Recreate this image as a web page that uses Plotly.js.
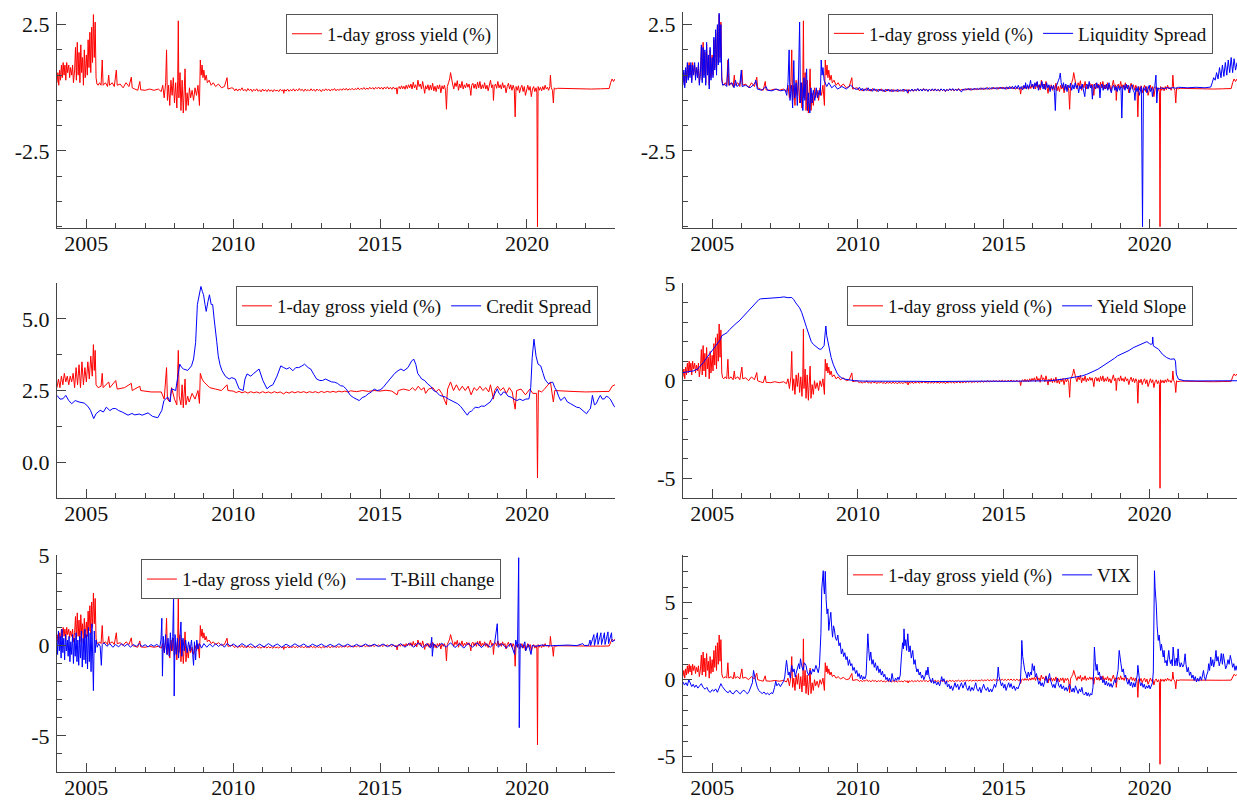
<!DOCTYPE html>
<html><head><meta charset="utf-8">
<script src="https://cdn.plot.ly/plotly-3.0.1.min.js"></script>
<style>html,body{margin:0;padding:0;background:#fff}#chart{width:1237px;height:802px}</style>
</head><body><div id="chart"></div>
<script>
// ---- tick labels ----
const yearTicks = [2005, 2010, 2015, 2020];
const yearLabels = ['2005', '2010', '2015', '2020'];

// ---- 1-day gross yield (%) : [year, value] ----
const yieldPts = [
[2004.00,0.2],[2004.03,0.6],[2004.06,0.1],[2004.09,0.7],[2004.12,0.3],[2004.15,0.9],[2004.18,0.4],[2004.21,1.0],[2004.24,0.5],[2004.27,0.9],[2004.30,0.3],[2004.33,1.0],[2004.36,0.6],[2004.40,0.9],[2004.43,0.4],[2004.46,0.8],[2004.50,0.5],[2004.53,0.9],[2004.56,0.2],[2004.60,0.7],
[2004.63,1.6],[2004.66,0.3],[2004.69,1.8],[2004.72,0.5],[2004.75,1.4],[2004.78,0.2],[2004.81,1.7],[2004.84,0.6],[2004.87,1.2],[2004.90,0.1],[2004.93,1.5],[2004.96,0.4],[2005.00,1.3],[2005.03,0.5],[2005.06,1.9],[2005.09,0.8],[2005.12,2.2],[2005.15,0.6],[2005.18,2.4],[2005.21,1.0],[2005.24,2.9],[2005.27,1.2],[2005.30,2.6],[2005.33,0.4],[2005.36,0.15],
[2005.40,0.1],[2005.45,0.2],[2005.50,0.1],[2005.54,1.1],[2005.57,0.1],[2005.65,0.2],[2005.72,0.05],[2005.76,0.5],[2005.79,0.1],[2005.88,0.2],[2005.95,0.05],[2006.02,0.7],[2006.05,0.1],[2006.15,0.15],[2006.25,0.0],[2006.35,0.2],[2006.45,0.05],[2006.53,0.42],[2006.56,0.0],[2006.65,-0.05],[2006.75,-0.1],[2006.82,0.25],[2006.85,-0.08],[2007.00,-0.1],[2007.15,-0.05],[2007.30,-0.1],[2007.45,-0.05],[2007.55,-0.15],
[2007.60,0.1],[2007.65,-0.4],[2007.70,0.2],[2007.73,1.5],[2007.76,-0.5],[2007.80,0.1],[2007.84,-0.7],[2007.88,0.3],[2007.92,-0.3],[2007.96,0.4],[2008.00,-0.6],[2008.04,0.2],[2008.08,-0.8],[2008.11,0.3],[2008.13,2.65],[2008.15,-0.4],[2008.19,0.6],[2008.22,-0.9],[2008.26,0.3],[2008.30,-1.0],[2008.33,0.0],[2008.36,0.75],[2008.39,-0.9],[2008.43,-0.2],[2008.47,-0.7],[2008.51,0.0],[2008.55,-0.4],[2008.60,-0.1],[2008.65,-0.5],[2008.70,0.0],[2008.75,-0.3],[2008.80,0.1],[2008.85,-0.7],[2008.88,1.1],[2008.91,0.5],[2008.94,0.9],[2008.97,0.4],[2009.00,0.7],[2009.04,0.3],[2009.08,0.5],[2009.12,0.2],[2009.18,0.3],[2009.25,0.1],[2009.32,0.2],[2009.40,0.05],[2009.50,0.15],[2009.60,0.0],[2009.70,0.05],[2009.79,0.4],[2009.82,-0.05],[2009.95,0.0],
[2010.00,-0.02],[2010.05,-0.12],[2010.10,-0.04],[2010.15,-0.13],[2010.20,-0.05],[2010.25,-0.10],[2010.30,0.00],[2010.35,-0.12],[2010.40,-0.06],[2010.45,-0.14],[2010.50,-0.03],[2010.55,-0.11],[2010.60,-0.05],[2010.65,-0.15],[2010.70,-0.06],[2010.75,-0.12],[2010.80,-0.04],[2010.85,-0.14],[2010.90,-0.08],[2010.95,-0.16],
[2011.00,-0.05],[2011.05,-0.13],[2011.10,-0.07],[2011.15,-0.15],[2011.20,-0.06],[2011.25,-0.14],[2011.30,-0.08],[2011.35,-0.16],[2011.40,-0.07],[2011.45,-0.13],[2011.50,-0.09],[2011.55,-0.15],[2011.60,-0.06],[2011.65,-0.12],[2011.70,-0.08],[2011.72,-0.22],[2011.75,-0.07],[2011.80,-0.13],[2011.85,-0.05],[2011.90,-0.14],[2011.95,-0.07],
[2012.00,-0.12],[2012.05,-0.04],[2012.10,-0.13],[2012.15,-0.06],[2012.20,-0.12],[2012.25,-0.03],[2012.30,-0.11],[2012.35,-0.06],[2012.40,-0.14],[2012.45,-0.05],[2012.50,-0.12],[2012.55,-0.07],[2012.60,-0.13],[2012.65,-0.04],[2012.70,-0.12],[2012.75,-0.06],[2012.80,-0.14],[2012.85,-0.05],[2012.90,-0.11],[2012.95,-0.07],
[2013.00,-0.15],[2013.05,-0.06],[2013.10,-0.12],[2013.15,-0.04],[2013.20,-0.11],[2013.25,-0.05],[2013.30,-0.13],[2013.35,-0.06],[2013.40,-0.10],[2013.45,-0.03],[2013.50,-0.12],[2013.55,-0.05],[2013.60,-0.11],[2013.65,-0.04],[2013.70,-0.10],[2013.75,-0.03],[2013.80,-0.09],[2013.85,-0.02],[2013.90,-0.10],[2013.95,-0.04],
[2014.00,-0.08],[2014.05,-0.02],[2014.10,-0.09],[2014.15,-0.03],[2014.20,-0.07],[2014.25,0.00],[2014.30,-0.08],[2014.35,-0.02],[2014.40,-0.06],[2014.45,0.01],[2014.50,-0.07],[2014.55,-0.01],[2014.60,-0.06],[2014.65,0.02],[2014.70,-0.05],[2014.75,0.01],[2014.80,-0.06],[2014.85,0.02],[2014.90,-0.04],[2014.95,0.03],
[2015.00,-0.05],[2015.05,0.02],[2015.10,-0.06],[2015.15,0.03],[2015.20,-0.04],[2015.25,0.04],[2015.30,-0.05],[2015.35,0.02],[2015.40,-0.06],[2015.45,0.03],[2015.50,-0.05],[2015.55,0.0],[2015.58,-0.25],[2015.61,0.0],
[2015.65,0.05],[2015.69,-0.05],[2015.73,0.08],[2015.77,-0.04],[2015.81,0.06],[2015.85,-0.06],[2015.89,0.10],[2015.93,-0.03],[2015.97,0.12],[2016.01,0.0],[2016.05,0.15],[2016.09,-0.05],[2016.13,0.22],[2016.17,0.0],[2016.21,0.12],[2016.25,-0.08],[2016.29,0.30],[2016.33,0.05],[2016.37,0.15],[2016.41,-0.05],[2016.45,0.25],[2016.49,0.0],[2016.52,-0.22],[2016.55,0.08],[2016.59,-0.05],[2016.63,0.12],[2016.67,-0.1],[2016.71,0.10],[2016.75,-0.08],[2016.79,0.18],[2016.83,-0.12],[2016.87,0.06],[2016.91,-0.15],[2016.95,0.10],[2016.99,-0.05],
[2017.03,0.12],[2017.07,-0.2],[2017.11,0.08],[2017.15,-0.05],[2017.19,0.10],[2017.23,-0.1],[2017.26,-0.85],[2017.29,0.05],[2017.33,0.20],[2017.37,0.35],[2017.40,0.60],[2017.43,0.30],[2017.47,0.15],[2017.51,-0.05],[2017.55,0.20],[2017.59,0.05],[2017.63,0.28],[2017.67,-0.1],[2017.71,0.15],[2017.75,0.0],[2017.79,0.25],[2017.83,-0.05],[2017.87,0.12],[2017.91,0.0],[2017.95,0.18],[2017.99,0.02],
[2018.03,0.15],[2018.07,-0.1],[2018.09,-0.3],[2018.12,0.1],[2018.16,0.18],[2018.20,-0.02],[2018.24,0.15],[2018.28,-0.05],[2018.32,0.22],[2018.36,0.0],[2018.40,0.25],[2018.44,-0.05],[2018.48,0.12],[2018.52,-0.02],[2018.56,0.2],[2018.60,-0.05],[2018.64,0.1],[2018.68,-0.12],[2018.72,0.15],[2018.76,0.3],[2018.80,0.0],[2018.84,0.12],[2018.86,-0.5],[2018.89,0.05],[2018.93,0.15],[2018.97,-0.02],
[2019.01,0.25],[2019.05,0.0],[2019.09,0.12],[2019.13,-0.05],[2019.17,0.2],[2019.21,0.0],[2019.25,0.1],[2019.29,-0.2],[2019.33,0.05],[2019.37,0.18],[2019.41,-0.05],[2019.45,0.12],[2019.49,-0.1],[2019.53,0.1],[2019.57,-0.05],[2019.60,-1.15],[2019.63,0.05],[2019.67,-0.1],[2019.71,0.08],[2019.75,-0.2],[2019.79,0.0],[2019.83,0.1],[2019.87,-0.15],[2019.91,0.05],[2019.95,-0.3],[2019.99,-0.05],
[2020.03,0.1],[2020.07,-0.1],[2020.11,0.05],[2020.15,-0.35],[2020.19,-0.05],[2020.23,0.05],[2020.27,-0.15],[2020.31,0.0],[2020.34,-0.2],[2020.36,-5.5],[2020.38,0.05],[2020.42,-0.1],[2020.46,0.02],[2020.50,-0.12],[2020.54,0.05],[2020.58,-0.08],[2020.62,0.1],[2020.66,-0.05],[2020.70,0.02],[2020.74,-0.1],[2020.78,0.05],[2020.80,0.5],[2020.83,0.0],[2020.87,-0.1],[2020.90,-0.6],[2020.93,0.0],[2020.97,-0.05],
[2021.05,-0.02],[2021.30,-0.03],[2021.60,-0.02],[2021.90,-0.04],[2022.20,-0.05],[2022.50,-0.04],[2022.80,-0.03],[2022.85,0.2],[2022.90,0.35],[2022.95,0.25],[2023.00,0.35]
];

// ---- 1-day gross yield as drawn in the Credit Spread panel ----
const yieldCsPts = [
[2004.00,2.6],[2004.05,2.9],[2004.10,2.6],[2004.15,3.0],[2004.20,2.7],[2004.25,3.1],[2004.30,2.8],[2004.35,3.0],[2004.40,2.7],[2004.45,3.0],[2004.50,2.8],[2004.55,3.1],[2004.60,2.6],[2004.65,3.3],[2004.70,2.7],[2004.75,3.4],[2004.80,2.6],[2004.85,3.5],[2004.90,2.7],[2004.95,3.3],[2005.00,2.8],[2005.05,3.5],[2005.10,2.9],[2005.15,3.7],[2005.20,3.0],[2005.24,4.1],[2005.27,3.2],[2005.30,3.9],[2005.33,2.7],[2005.40,2.6],[2005.50,2.65],[2005.54,3.1],[2005.57,2.6],[2005.76,2.8],[2005.80,2.6],[2006.00,2.85],[2006.05,2.55],[2006.30,2.6],[2006.53,2.75],[2006.56,2.5],[2006.82,2.65],[2006.85,2.5],[2007.20,2.45],[2007.55,2.45],[2007.65,2.2],[2007.73,3.3],[2007.76,2.2],[2007.84,2.1],[2007.90,2.6],[2008.00,2.2],[2008.08,2.0],[2008.13,3.9],[2008.16,2.3],[2008.22,2.0],[2008.26,2.7],[2008.30,1.9],[2008.36,2.9],[2008.39,2.0],[2008.45,2.3],[2008.50,2.1],[2008.60,2.4],[2008.70,2.2],[2008.80,2.5],[2008.85,2.05],[2008.88,3.1],[2008.94,2.9],[2009.00,2.8],[2009.10,2.7],[2009.20,2.6],[2009.40,2.55],[2009.60,2.5],[2009.79,2.7],[2009.82,2.5],
[2010.00,2.48],[2010.10,2.43],[2010.20,2.47],[2010.30,2.42],[2010.40,2.46],[2010.50,2.41],[2010.60,2.46],[2010.70,2.42],[2010.80,2.45],[2010.90,2.41],[2011.00,2.46],[2011.10,2.42],[2011.20,2.45],[2011.30,2.41],[2011.40,2.46],[2011.50,2.42],[2011.60,2.45],[2011.72,2.38],[2011.80,2.45],[2011.90,2.41],[2012.00,2.46],[2012.10,2.42],[2012.20,2.46],[2012.30,2.43],[2012.40,2.46],[2012.50,2.42],[2012.60,2.46],[2012.70,2.43],[2012.80,2.46],[2012.90,2.42],[2013.00,2.47],[2013.10,2.43],[2013.20,2.47],[2013.30,2.44],[2013.40,2.47],[2013.50,2.44],[2013.60,2.48],[2013.70,2.45],[2013.80,2.48],[2013.90,2.45],[2014.00,2.49],[2014.20,2.46],[2014.40,2.5],[2014.60,2.47],[2014.80,2.5],[2015.00,2.48],[2015.20,2.51],[2015.40,2.48],[2015.58,2.35],[2015.62,2.5],
[2015.80,2.55],[2016.00,2.5],[2016.10,2.6],[2016.20,2.5],[2016.30,2.65],[2016.40,2.52],[2016.50,2.6],[2016.55,2.4],[2016.65,2.55],[2016.80,2.6],[2016.90,2.45],[2017.00,2.55],[2017.10,2.4],[2017.26,2.0],[2017.30,2.55],[2017.40,2.8],[2017.50,2.5],[2017.60,2.7],[2017.70,2.5],[2017.80,2.65],[2017.90,2.5],[2018.00,2.65],[2018.10,2.35],[2018.20,2.6],[2018.30,2.5],[2018.40,2.65],[2018.50,2.5],[2018.60,2.6],[2018.70,2.45],[2018.76,2.7],[2018.86,2.2],[2018.90,2.5],[2019.00,2.65],[2019.10,2.5],[2019.20,2.6],[2019.30,2.4],[2019.40,2.6],[2019.50,2.45],[2019.60,1.85],[2019.65,2.5],[2019.80,2.55],[2019.95,2.35],[2020.10,2.55],[2020.20,2.4],[2020.33,2.4],[2020.36,-0.55],[2020.39,2.5],[2020.50,2.45],[2020.60,2.55],[2020.80,2.8],[2020.90,2.1],[2020.95,2.5],[2021.50,2.47],[2022.00,2.45],[2022.80,2.47],[2022.90,2.65],[2023.00,2.7]
];

// ---- Liquidity Spread ----
const liqPts = [
[2004.00,0.1],[2004.03,0.7],[2004.06,0.0],[2004.09,0.8],[2004.12,0.2],[2004.15,1.0],[2004.18,0.3],[2004.21,0.9],[2004.24,0.4],[2004.27,1.0],[2004.30,0.2],[2004.33,0.9],[2004.36,0.5],[2004.40,1.0],[2004.43,0.3],[2004.46,0.8],[2004.50,0.4],[2004.53,1.0],[2004.56,0.1],[2004.60,0.6],
[2004.63,1.7],[2004.66,0.2],[2004.69,1.6],[2004.72,0.4],[2004.75,1.5],[2004.78,0.1],[2004.81,1.8],[2004.84,0.5],[2004.87,1.3],[2004.90,-0.05],[2004.93,1.6],[2004.96,0.3],[2005.00,1.2],[2005.03,0.4],[2005.06,2.0],[2005.09,0.7],[2005.12,2.3],[2005.15,0.5],[2005.18,2.5],[2005.21,0.9],[2005.24,2.95],[2005.27,1.0],[2005.30,2.5],[2005.33,0.3],[2005.36,0.1],
[2005.42,0.15],[2005.50,0.05],[2005.56,1.15],[2005.59,0.1],[2005.68,0.2],[2005.75,0.0],[2005.80,0.3],[2005.85,0.05],[2005.95,0.15],[2006.00,0.7],[2006.03,0.05],[2006.15,0.1],[2006.30,0.0],[2006.45,0.15],[2006.50,0.3],[2006.55,-0.05],[2006.70,-0.1],[2006.85,0.05],[2006.90,-0.1],[2007.05,-0.12],[2007.20,-0.05],[2007.35,-0.12],[2007.50,-0.08],
[2007.56,-0.3],[2007.60,0.2],[2007.64,1.5],[2007.67,-0.5],[2007.72,0.1],[2007.76,-0.8],[2007.80,1.08],[2007.83,-0.4],[2007.88,0.2],[2007.92,-0.7],[2007.96,0.3],[2008.00,2.6],[2008.03,-0.6],[2008.07,0.2],[2008.11,-0.9],[2008.15,0.4],[2008.18,-0.5],[2008.21,0.1],[2008.24,0.75],[2008.27,-0.9],[2008.31,-0.2],[2008.35,-1.0],[2008.39,0.0],[2008.43,-0.6],[2008.47,-0.1],[2008.52,-0.5],[2008.57,0.0],[2008.62,-0.4],[2008.67,-0.1],[2008.71,-0.3],[2008.74,1.1],[2008.77,0.5],[2008.80,0.8],[2008.84,0.3],[2008.88,0.2],[2008.93,0.05],[2009.00,0.2],[2009.10,0.0],[2009.20,0.1],[2009.30,-0.05],[2009.45,0.05],[2009.60,-0.05],[2009.75,0.1],[2009.90,-0.05],
[2010.00,-0.06],[2010.05,0.02],[2010.10,-0.1],[2010.15,-0.02],[2010.20,-0.13],[2010.25,-0.04],[2010.30,-0.11],[2010.35,0.0],[2010.40,-0.12],[2010.45,-0.05],[2010.50,-0.14],[2010.55,-0.03],[2010.60,-0.12],[2010.65,-0.06],[2010.70,-0.15],[2010.75,-0.05],[2010.80,-0.13],[2010.85,-0.07],[2010.90,-0.16],[2010.95,-0.06],
[2011.00,-0.13],[2011.05,-0.05],[2011.10,-0.15],[2011.15,-0.07],[2011.20,-0.16],[2011.25,-0.08],[2011.30,-0.14],[2011.35,-0.06],[2011.40,-0.15],[2011.45,-0.08],[2011.50,-0.13],[2011.55,-0.05],[2011.60,-0.14],[2011.65,-0.07],[2011.70,-0.2],[2011.75,-0.08],[2011.80,-0.14],[2011.85,-0.05],[2011.90,-0.13],[2011.95,-0.06],
[2012.00,-0.12],[2012.05,-0.03],[2012.10,-0.12],[2012.15,-0.05],[2012.20,-0.13],[2012.25,-0.04],[2012.30,-0.11],[2012.35,-0.05],[2012.40,-0.14],[2012.45,-0.06],[2012.50,-0.12],[2012.55,-0.04],[2012.60,-0.11],[2012.65,-0.05],[2012.70,-0.13],[2012.75,-0.06],[2012.80,-0.12],[2012.85,-0.04],[2012.90,-0.11],[2012.95,-0.05],
[2013.00,-0.14],[2013.05,-0.06],[2013.10,-0.12],[2013.15,-0.04],[2013.20,-0.1],[2013.25,-0.03],[2013.30,-0.11],[2013.35,-0.05],[2013.40,-0.12],[2013.45,-0.04],[2013.50,-0.1],[2013.55,-0.17],[2013.60,-0.05],[2013.65,-0.1],[2013.70,-0.03],[2013.75,-0.09],[2013.80,-0.02],[2013.85,-0.1],[2013.90,-0.03],[2013.95,-0.08],
[2014.00,-0.01],[2014.05,-0.08],[2014.10,-0.02],[2014.15,-0.07],[2014.20,0.0],[2014.25,-0.07],[2014.30,-0.01],[2014.35,-0.06],[2014.40,0.01],[2014.45,-0.06],[2014.50,0.0],[2014.55,-0.05],[2014.60,0.02],[2014.65,-0.05],[2014.70,0.01],[2014.75,-0.06],[2014.80,0.02],[2014.85,-0.04],[2014.90,0.03],[2014.95,-0.05],
[2015.00,0.02],[2015.05,-0.06],[2015.10,0.04],[2015.15,-0.05],[2015.20,0.05],[2015.25,-0.04],[2015.30,0.06],[2015.35,-0.05],[2015.40,0.08],[2015.45,-0.04],[2015.50,0.1],[2015.55,-0.06],[2015.60,0.05],
[2015.65,-0.08],[2015.69,0.1],[2015.73,-0.02],[2015.75,0.2],[2015.78,-0.05],[2015.82,0.12],[2015.86,-0.03],[2015.90,0.18],[2015.92,0.3],[2015.95,0.05],[2015.99,0.15],[2016.03,-0.05],[2016.07,0.2],[2016.11,0.05],[2016.15,0.25],[2016.19,-0.1],[2016.23,0.12],[2016.27,0.0],[2016.31,0.25],[2016.35,-0.05],[2016.39,0.15],[2016.43,-0.08],[2016.47,0.2],[2016.51,0.0],[2016.55,0.12],[2016.59,-0.15],[2016.63,0.08],[2016.67,-0.05],[2016.71,0.1],[2016.74,-0.2],[2016.77,-0.9],[2016.80,0.05],[2016.84,0.15],[2016.88,0.3],[2016.91,0.4],[2016.94,0.58],[2016.97,0.2],
[2017.01,0.0],[2017.05,0.2],[2017.09,-0.1],[2017.13,0.15],[2017.17,-0.15],[2017.21,0.1],[2017.25,0.0],[2017.29,0.18],[2017.33,-0.1],[2017.37,0.12],[2017.41,-0.05],[2017.45,0.2],[2017.49,0.0],[2017.53,0.1],[2017.57,-0.2],[2017.61,0.08],[2017.65,-0.05],[2017.69,0.15],[2017.73,-0.1],[2017.78,-0.35],[2017.81,0.05],[2017.85,0.15],[2017.89,-0.05],[2017.93,0.25],[2017.97,0.0],
[2018.01,0.1],[2018.04,-0.45],[2018.07,0.05],[2018.11,0.15],[2018.15,-0.05],[2018.19,0.2],[2018.23,0.0],[2018.27,0.1],[2018.30,-0.4],[2018.33,0.05],[2018.37,0.15],[2018.41,-0.1],[2018.45,0.1],[2018.49,-0.05],[2018.53,0.15],[2018.57,-0.1],[2018.61,0.2],[2018.65,-0.05],[2018.69,-0.2],[2018.73,0.05],[2018.77,0.1],[2018.81,-0.1],[2018.85,0.05],[2018.89,-0.15],[2018.93,0.08],[2018.97,-0.1],
[2019.02,0.05],[2019.05,-1.2],[2019.08,0.0],[2019.12,0.1],[2019.16,-0.1],[2019.20,0.15],[2019.24,-0.05],[2019.28,0.1],[2019.32,-0.2],[2019.36,0.05],[2019.40,0.12],[2019.44,-0.1],[2019.48,-0.2],[2019.50,-0.5],[2019.53,0.0],[2019.57,-0.15],[2019.61,0.05],[2019.65,-0.3],[2019.69,-0.05],[2019.72,0.05],[2019.76,-5.5],[2019.79,0.0],[2019.83,-0.1],[2019.87,0.05],[2019.91,-0.2],[2019.95,0.0],[2019.99,0.1],
[2020.03,-0.15],[2020.07,0.0],[2020.10,-0.35],[2020.14,-0.05],[2020.18,0.05],[2020.22,0.5],[2020.25,-0.6],[2020.28,0.0],[2020.32,-0.05],[2020.40,0.0],[2020.50,-0.04],[2020.60,0.01],[2020.70,-0.03],[2020.80,0.01],[2020.90,-0.02],[2021.00,0.02],[2021.30,0.0],[2021.60,0.02],[2021.90,0.0],[2022.10,0.03],
[2022.15,0.2],[2022.20,0.4],[2022.25,0.3],[2022.30,0.6],[2022.35,0.35],[2022.40,0.8],[2022.45,0.4],[2022.50,0.9],[2022.55,0.45],[2022.60,1.0],[2022.65,0.5],[2022.70,1.1],[2022.75,0.6],[2022.80,1.2],[2022.85,0.6],[2022.90,1.15],[2022.95,0.7],[2023.00,1.0]
];

// ---- Credit Spread ----
const credPts = [
[2004.00,2.33],[2004.10,2.2],[2004.20,2.21],[2004.30,2.33],[2004.40,2.15],[2004.50,2.04],[2004.62,2.15],[2004.75,2.1],[2004.93,2.06],[2005.05,1.95],[2005.14,1.81],[2005.25,1.52],[2005.33,1.69],[2005.47,1.81],[2005.58,1.75],[2005.68,1.92],[2005.80,1.8],[2005.90,1.87],[2006.00,1.87],[2006.10,1.8],[2006.22,1.75],[2006.42,1.64],[2006.55,1.7],[2006.65,1.65],[2006.80,1.68],[2006.90,1.64],[2007.10,1.72],[2007.25,1.6],[2007.43,1.55],[2007.57,1.81],[2007.64,2.15],[2007.77,2.27],[2007.85,2.1],[2007.90,2.56],[2008.04,2.5],[2008.12,3.0],[2008.18,3.42],[2008.25,3.3],[2008.31,3.25],[2008.45,3.2],[2008.58,3.36],[2008.65,3.6],[2008.72,4.17],[2008.78,5.5],[2008.85,5.9],[2008.90,6.13],[2008.95,5.95],[2008.99,5.84],[2009.04,5.5],[2009.08,5.26],[2009.14,5.6],[2009.19,5.84],[2009.25,5.5],[2009.30,5.5],[2009.35,5.0],[2009.39,4.69],[2009.44,4.2],[2009.49,3.71],[2009.55,3.4],[2009.62,3.19],[2009.73,3.0],[2009.86,2.9],[2009.95,2.95],[2010.07,2.9],[2010.20,2.56],[2010.34,2.5],[2010.40,2.9],[2010.47,3.08],[2010.60,3.0],[2010.68,3.08],[2010.80,3.2],[2010.88,3.25],[2011.01,2.85],[2011.15,2.56],[2011.25,2.65],[2011.35,2.7],[2011.49,3.0],[2011.62,3.36],[2011.72,3.3],[2011.82,3.25],[2011.92,3.3],[2012.03,3.19],[2012.13,3.3],[2012.23,3.3],[2012.33,3.35],[2012.43,3.42],[2012.55,3.3],[2012.64,3.25],[2012.75,3.05],[2012.84,2.9],[2012.95,2.85],[2013.04,2.85],[2013.14,2.9],[2013.24,2.85],[2013.35,2.8],[2013.45,2.79],[2013.55,2.75],[2013.65,2.67],[2013.75,2.65],[2013.85,2.55],[2013.92,2.45],[2013.99,2.33],[2014.10,2.25],[2014.19,2.21],[2014.29,2.15],[2014.39,2.25],[2014.50,2.3],[2014.59,2.38],[2014.70,2.45],[2014.80,2.55],[2014.90,2.5],[2015.00,2.52],[2015.10,2.6],[2015.20,2.73],[2015.30,2.85],[2015.41,2.96],[2015.50,3.1],[2015.61,3.19],[2015.71,3.25],[2015.81,3.19],[2015.95,3.3],[2016.08,3.54],[2016.15,3.59],[2016.22,3.4],[2016.28,3.1],[2016.35,3.0],[2016.42,2.9],[2016.52,2.85],[2016.62,2.73],[2016.72,2.65],[2016.82,2.5],[2016.92,2.45],[2017.03,2.33],[2017.13,2.3],[2017.23,2.27],[2017.33,2.2],[2017.43,2.15],[2017.53,2.1],[2017.64,2.04],[2017.74,1.95],[2017.84,1.81],[2017.92,1.7],[2017.97,1.64],[2018.04,1.75],[2018.11,1.78],[2018.18,1.85],[2018.24,1.92],[2018.35,1.9],[2018.45,1.96],[2018.55,1.95],[2018.65,2.04],[2018.75,2.1],[2018.85,2.27],[2018.92,2.4],[2018.99,2.56],[2019.05,2.4],[2019.12,2.33],[2019.20,2.45],[2019.26,2.44],[2019.36,2.3],[2019.46,2.27],[2019.56,2.2],[2019.66,2.15],[2019.76,2.2],[2019.86,2.15],[2019.96,2.2],[2020.07,2.21],[2020.13,2.6],[2020.18,3.65],[2020.24,4.29],[2020.28,3.9],[2020.31,3.7],[2020.38,3.42],[2020.47,3.36],[2020.55,3.1],[2020.61,2.9],[2020.68,2.8],[2020.74,2.73],[2020.81,2.78],[2020.88,2.79],[2020.95,2.6],[2021.01,2.5],[2021.08,2.3],[2021.15,2.15],[2021.28,2.27],[2021.38,2.1],[2021.49,2.04],[2021.59,1.98],[2021.69,1.92],[2021.79,1.9],[2021.89,1.81],[2021.96,1.75],[2022.03,1.69],[2022.10,1.8],[2022.16,1.86],[2022.20,2.1],[2022.23,2.33],[2022.30,2.0],[2022.36,2.04],[2022.43,2.2],[2022.50,2.33],[2022.57,2.2],[2022.64,2.21],[2022.70,2.3],[2022.77,2.27],[2022.84,2.2],[2022.91,2.04],[2022.97,1.95],[2023.00,1.92]
];

// ---- Yield Slope ----
const slopePts = [
[2004.00,0.42],[2004.12,0.45],[2004.23,0.47],[2004.35,0.5],[2004.50,0.6],[2004.60,0.75],[2004.70,0.93],[2004.80,1.15],[2004.90,1.36],[2005.00,1.55],[2005.10,1.78],[2005.20,1.95],[2005.28,2.1],[2005.33,2.3],[2005.38,2.34],[2005.51,2.46],[2005.60,2.62],[2005.71,2.8],[2005.82,2.93],[2005.92,3.05],[2006.02,3.22],[2006.12,3.39],[2006.22,3.55],[2006.32,3.73],[2006.42,3.9],[2006.52,4.07],[2006.60,4.15],[2006.66,4.19],[2006.80,4.2],[2006.92,4.24],[2007.05,4.22],[2007.19,4.24],[2007.32,4.26],[2007.46,4.29],[2007.60,4.25],[2007.73,4.26],[2007.80,4.15],[2007.87,3.98],[2007.94,3.85],[2008.00,3.73],[2008.07,3.5],[2008.14,3.22],[2008.19,2.95],[2008.24,2.71],[2008.30,2.45],[2008.34,2.2],[2008.40,2.0],[2008.47,1.86],[2008.55,1.75],[2008.60,1.69],[2008.67,1.62],[2008.74,1.61],[2008.80,1.7],[2008.84,1.8],[2008.88,2.5],[2008.90,2.8],[2008.93,2.3],[2008.97,1.95],[2009.03,1.55],[2009.08,1.19],[2009.15,0.85],[2009.21,0.59],[2009.28,0.4],[2009.35,0.25],[2009.45,0.14],[2009.55,0.08],[2009.70,0.04],[2009.89,0.0],[2010.20,-0.02],[2010.60,-0.03],[2011.00,-0.03],[2011.50,-0.04],[2012.00,-0.03],[2012.50,-0.04],[2013.00,-0.03],[2013.50,-0.04],[2014.00,-0.03],[2014.50,-0.02],[2015.00,-0.03],[2015.50,-0.02],[2016.00,-0.02],[2016.60,0.0],[2017.02,0.08],[2017.22,0.12],[2017.42,0.17],[2017.55,0.2],[2017.69,0.25],[2017.85,0.33],[2017.96,0.42],[2018.10,0.5],[2018.23,0.59],[2018.37,0.72],[2018.50,0.85],[2018.60,0.95],[2018.70,1.02],[2018.80,1.15],[2018.90,1.27],[2019.03,1.36],[2019.17,1.44],[2019.30,1.55],[2019.44,1.69],[2019.58,1.78],[2019.71,1.86],[2019.80,1.92],[2019.91,2.0],[2020.00,1.9],[2020.05,1.86],[2020.10,1.9],[2020.11,2.24],[2020.13,1.78],[2020.20,1.7],[2020.31,1.61],[2020.44,1.36],[2020.58,1.19],[2020.72,1.1],[2020.85,1.12],[2020.89,1.0],[2020.92,0.34],[2020.99,0.08],[2021.19,0.0],[2021.60,-0.01],[2022.00,0.0],[2022.50,-0.01],[2023.00,0.0]
];

// ---- T-Bill change ----
const tbillPts = [
[2004.00,0.3],[2004.02,-0.5],[2004.05,0.8],[2004.08,-0.3],[2004.11,0.5],[2004.14,-0.7],[2004.17,0.9],[2004.20,-0.4],[2004.23,0.4],[2004.26,-0.8],[2004.29,0.6],[2004.32,-0.3],[2004.35,0.3],[2004.38,-0.6],[2004.41,0.5],[2004.44,-0.9],[2004.47,0.2],[2004.50,-0.5],[2004.53,0.6],[2004.56,-1.0],[2004.59,0.4],[2004.62,-0.6],[2004.65,0.7],[2004.68,-0.9],[2004.71,0.3],[2004.74,-1.1],[2004.77,0.5],[2004.80,-0.7],[2004.83,0.8],[2004.86,-1.2],[2004.89,0.4],[2004.92,-0.8],[2004.95,0.9],[2004.98,-1.0],[2005.01,0.6],[2005.04,-1.3],[2005.07,1.0],[2005.10,-0.9],[2005.13,0.7],[2005.16,-1.45],[2005.19,1.2],[2005.22,-0.6],[2005.24,-2.5],[2005.27,0.8],[2005.30,-0.4],[2005.33,0.3],[2005.37,-0.1],[2005.42,0.1],[2005.47,-0.05],[2005.51,-1.1],[2005.54,0.05],[2005.60,0.15],[2005.70,-0.05],[2005.80,0.1],[2005.90,-0.1],[2006.00,0.05],[2006.10,-0.08],[2006.20,0.1],[2006.30,-0.05],[2006.40,0.08],[2006.50,-0.1],[2006.60,0.05],[2006.70,-0.05],[2006.80,0.1],[2006.90,-0.06],[2007.00,0.04],[2007.10,-0.08],[2007.20,0.05],[2007.30,-0.05],[2007.40,0.06],[2007.50,-0.1],
[2007.54,0.3],[2007.57,1.5],[2007.59,-1.7],[2007.62,0.5],[2007.66,-0.4],[2007.70,0.6],[2007.74,-0.5],[2007.78,0.4],[2007.82,-0.6],[2007.86,0.7],[2007.90,-0.3],[2007.94,0.5],[2007.97,2.8],[2007.99,-2.8],[2008.02,0.6],[2008.06,-0.5],[2008.10,0.4],[2008.14,-0.7],[2008.18,0.3],[2008.22,1.3],[2008.25,-0.6],[2008.29,0.4],[2008.33,-0.3],[2008.38,0.3],[2008.43,-0.4],[2008.48,0.2],[2008.53,-0.3],[2008.58,0.3],[2008.62,-0.5],[2008.65,-1.1],[2008.68,0.2],[2008.72,-0.8],[2008.76,0.3],[2008.80,-0.2],[2008.85,0.1],[2008.92,-0.15],[2009.00,0.1],[2009.10,-0.1],[2009.20,0.08],[2009.30,-0.08],[2009.40,0.1],[2009.50,-0.06],[2009.60,0.08],[2009.70,-0.1],[2009.80,0.12],[2009.90,-0.05],
[2010.00,0.08],[2010.15,-0.08],[2010.30,0.1],[2010.45,-0.06],[2010.60,0.09],[2010.75,-0.1],[2010.90,0.07],[2011.05,-0.08],[2011.20,0.1],[2011.35,-0.06],[2011.50,0.08],[2011.65,-0.1],[2011.80,0.07],[2011.95,-0.07],[2012.10,0.09],[2012.25,-0.06],[2012.40,0.08],[2012.55,-0.09],[2012.70,0.07],[2012.85,-0.05],[2013.00,0.08],[2013.15,-0.08],[2013.30,0.06],[2013.45,-0.07],[2013.60,0.09],[2013.75,-0.06],[2013.90,0.07],[2014.05,-0.08],[2014.20,0.06],[2014.35,-0.07],[2014.50,0.08],[2014.65,-0.05],[2014.80,0.07],[2014.95,-0.06],[2015.10,0.08],[2015.25,-0.07],[2015.40,0.06],[2015.55,-0.08],[2015.70,0.1],[2015.85,-0.1],[2016.00,0.12],[2016.15,-0.1],[2016.30,0.15],[2016.45,-0.12],[2016.60,0.1],[2016.72,-0.15],[2016.76,0.45],[2016.78,-0.6],[2016.82,0.1],[2016.95,-0.1],[2017.10,0.12],[2017.25,-0.1],[2017.40,0.15],[2017.55,-0.12],[2017.70,0.1],[2017.85,-0.15],[2018.00,0.12],[2018.15,-0.1],[2018.30,0.15],[2018.45,-0.12],[2018.60,0.1],[2018.75,-0.1],[2018.90,0.12],[2018.99,1.2],[2019.02,-0.1],[2019.15,0.1],[2019.30,-0.15],[2019.45,0.12],[2019.58,-0.5],[2019.62,0.3],[2019.68,-0.1],[2019.72,4.85],[2019.74,-4.55],[2019.77,0.1],[2019.85,-0.15],[2019.93,0.2],[2019.96,-0.3],[2020.05,0.05],[2020.14,-0.5],[2020.18,0.0],[2020.30,-0.05],[2020.50,0.02],[2020.80,-0.02],[2021.10,0.0],[2021.40,0.02],[2021.70,-0.01],[2021.90,0.1],[2021.95,0.0],[2022.10,0.0],[2022.15,0.3],[2022.17,0.0],[2022.28,0.6],[2022.30,0.0],[2022.40,0.7],[2022.42,0.05],[2022.52,0.7],[2022.54,0.05],[2022.64,0.7],[2022.66,0.05],[2022.76,0.75],[2022.78,0.1],[2022.88,0.7],[2022.90,0.2],[2023.00,0.3]
];

// ---- VIX ----
const vixPts = [
[2004.00,-0.15],[2004.05,-0.35],[2004.10,-0.2],[2004.15,-0.4],[2004.20,0.0],[2004.25,-0.3],[2004.30,-0.45],[2004.35,-0.3],[2004.40,-0.5],[2004.45,-0.35],[2004.51,-0.55],[2004.57,-0.4],[2004.63,-0.26],[2004.69,-0.5],[2004.76,-0.62],[2004.82,-0.5],[2004.88,-0.75],[2004.94,-0.82],[2005.00,-0.65],[2005.06,-0.75],[2005.12,-0.6],[2005.18,-0.82],[2005.24,-0.55],[2005.30,-0.26],[2005.35,-0.45],[2005.40,-0.6],[2005.47,-0.75],[2005.55,-0.85],[2005.61,-0.7],[2005.67,-0.88],[2005.73,-0.92],[2005.79,-0.75],[2005.85,-0.7],[2005.91,-0.85],[2005.97,-0.92],
[2006.03,-0.75],[2006.09,-0.68],[2006.15,-0.82],[2006.21,-0.92],[2006.27,-0.75],[2006.33,-0.45],[2006.38,-0.2],[2006.42,0.6],[2006.46,0.1],[2006.50,-0.15],[2006.55,-0.5],[2006.60,-0.7],[2006.66,-0.82],[2006.72,-0.9],[2006.78,-0.8],[2006.84,-0.95],[2006.90,-0.88],[2006.96,-0.98],
[2007.02,-0.85],[2007.08,-0.9],[2007.14,-0.5],[2007.18,-0.1],[2007.22,-0.4],[2007.28,-0.25],[2007.34,-0.45],[2007.40,-0.3],[2007.45,-0.1],[2007.49,0.17],[2007.52,0.6],[2007.55,1.25],[2007.58,0.8],[2007.61,0.3],[2007.64,0.5],[2007.68,0.1],[2007.73,0.93],[2007.77,0.5],[2007.81,0.7],[2007.85,0.17],[2007.89,0.5],[2007.93,0.8],[2007.97,1.04],
[2008.00,0.7],[2008.03,1.36],[2008.07,0.9],[2008.12,0.6],[2008.16,1.1],[2008.22,0.93],[2008.26,0.5],[2008.31,0.28],[2008.36,0.6],[2008.40,0.35],[2008.45,0.7],[2008.50,0.5],[2008.56,0.93],[2008.60,0.6],[2008.64,0.45],[2008.68,0.9],[2008.70,1.47],[2008.73,3.0],[2008.76,5.9],[2008.79,6.5],[2008.81,7.08],[2008.83,6.0],[2008.85,5.57],[2008.87,6.5],[2008.88,7.04],[2008.91,5.2],[2008.94,4.28],[2008.97,4.6],
[2009.00,3.2],[2009.03,3.8],[2009.07,4.38],[2009.10,3.4],[2009.13,2.76],[2009.16,3.5],[2009.19,3.3],[2009.23,2.7],[2009.27,2.55],[2009.31,2.9],[2009.35,2.2],[2009.39,2.4],[2009.43,1.68],[2009.47,2.0],[2009.51,1.5],[2009.55,1.75],[2009.59,1.3],[2009.63,1.5],[2009.67,0.93],[2009.71,1.3],[2009.75,0.9],[2009.79,1.04],[2009.83,0.6],[2009.87,0.8],[2009.92,0.4],[2009.96,0.6],
[2010.00,0.2],[2010.04,0.4],[2010.08,0.06],[2010.12,0.3],[2010.16,0.0],[2010.20,0.2],[2010.24,0.05],[2010.28,0.3],[2010.31,1.5],[2010.34,2.98],[2010.37,2.0],[2010.40,1.25],[2010.44,1.8],[2010.48,1.0],[2010.52,1.3],[2010.56,0.8],[2010.60,1.1],[2010.64,0.6],[2010.68,0.9],[2010.72,0.45],[2010.76,0.7],[2010.80,0.3],[2010.84,0.55],[2010.88,0.17],[2010.92,0.35],[2010.96,0.0],
[2011.00,0.15],[2011.04,-0.1],[2011.08,0.1],[2011.13,-0.15],[2011.17,0.4],[2011.21,0.0],[2011.25,-0.1],[2011.29,0.1],[2011.33,-0.05],[2011.37,0.17],[2011.41,0.0],[2011.45,0.3],[2011.49,1.47],[2011.53,2.4],[2011.56,2.0],[2011.58,3.3],[2011.61,2.2],[2011.64,2.6],[2011.67,1.9],[2011.71,2.98],[2011.75,1.8],[2011.79,2.2],[2011.83,1.4],[2011.88,1.9],[2011.92,1.0],[2011.96,1.3],[2011.98,0.93],
[2012.02,0.5],[2012.06,0.7],[2012.10,0.3],[2012.14,0.5],[2012.18,0.1],[2012.22,0.3],[2012.26,0.0],[2012.30,0.2],[2012.34,0.6],[2012.37,0.3],[2012.40,0.82],[2012.44,0.2],[2012.48,0.0],[2012.52,-0.2],[2012.56,0.1],[2012.60,-0.25],[2012.65,-0.1],[2012.70,-0.35],[2012.75,-0.15],[2012.80,-0.4],[2012.83,-0.2],[2012.87,0.2],[2012.91,-0.1],[2012.95,0.06],
[2013.00,-0.3],[2013.04,-0.1],[2013.07,-0.48],[2013.12,-0.3],[2013.16,-0.6],[2013.20,-0.4],[2013.25,-0.7],[2013.29,-0.45],[2013.33,-0.2],[2013.37,-0.5],[2013.42,-0.3],[2013.46,-0.65],[2013.50,-0.45],[2013.55,-0.2],[2013.60,-0.55],[2013.64,-0.3],[2013.68,-0.15],[2013.72,-0.5],[2013.77,-0.7],[2013.82,-0.4],[2013.86,-0.75],[2013.91,-0.5],[2013.96,-0.7],
[2014.00,-0.45],[2014.04,-0.2],[2014.08,-0.6],[2014.13,-0.75],[2014.18,-0.5],[2014.22,-0.85],[2014.26,-0.6],[2014.31,-0.3],[2014.35,-0.55],[2014.40,-0.7],[2014.45,-0.5],[2014.50,-0.8],[2014.55,-0.6],[2014.59,-0.8],[2014.64,-0.55],[2014.68,-0.3],[2014.72,-0.5],[2014.76,-0.2],[2014.79,0.3],[2014.81,0.82],[2014.84,0.2],[2014.88,-0.1],[2014.92,-0.4],[2014.96,-0.2],
[2015.00,-0.55],[2015.04,-0.3],[2015.08,-0.7],[2015.13,-0.4],[2015.17,-0.2],[2015.21,-0.5],[2015.25,-0.26],[2015.30,-0.6],[2015.35,-0.4],[2015.40,-0.7],[2015.44,-0.48],[2015.49,-0.6],[2015.53,-0.3],[2015.57,-0.15],[2015.60,1.0],[2015.62,2.55],[2015.65,1.5],[2015.68,1.04],[2015.72,0.6],[2015.76,0.4],[2015.80,0.1],[2015.84,0.5],[2015.88,0.2],[2015.92,0.5],[2015.95,0.3],[2015.98,1.04],
[2016.02,0.6],[2016.05,0.9],[2016.08,0.17],[2016.12,0.4],[2016.16,-0.1],[2016.20,-0.3],[2016.24,-0.1],[2016.28,-0.4],[2016.32,-0.2],[2016.36,-0.45],[2016.40,-0.15],[2016.45,0.2],[2016.49,-0.2],[2016.53,0.1],[2016.57,0.4],[2016.60,0.0],[2016.64,-0.3],[2016.68,-0.5],[2016.72,-0.3],[2016.76,-0.55],[2016.80,-0.2],[2016.84,0.1],[2016.88,-0.35],[2016.92,-0.5],[2016.96,-0.3],
[2017.00,-0.6],[2017.05,-0.4],[2017.09,-0.7],[2017.14,-0.5],[2017.18,-0.75],[2017.22,-0.5],[2017.26,-0.3],[2017.30,-0.6],[2017.34,-0.8],[2017.38,-0.55],[2017.42,-0.82],[2017.46,-0.4],[2017.50,-0.7],[2017.55,-0.9],[2017.60,-0.6],[2017.64,-0.8],[2017.68,-0.5],[2017.72,-0.9],[2017.77,-1.0],[2017.82,-0.8],[2017.86,-1.05],[2017.90,-0.85],[2017.94,-1.08],[2017.98,-0.9],
[2018.02,-1.0],[2018.06,-0.5],[2018.09,0.8],[2018.11,2.12],[2018.14,1.2],[2018.17,0.6],[2018.20,1.0],[2018.24,0.3],[2018.28,0.5],[2018.32,0.0],[2018.36,0.2],[2018.40,-0.2],[2018.44,0.0],[2018.48,-0.35],[2018.52,-0.1],[2018.56,-0.4],[2018.60,-0.2],[2018.64,-0.45],[2018.68,-0.25],[2018.72,-0.5],[2018.76,-0.3],[2018.80,0.0],[2018.84,-0.2],[2018.88,0.3],[2018.92,0.6],[2018.96,1.9],[2018.99,1.2],
[2019.02,1.04],[2019.06,0.5],[2019.10,0.7],[2019.14,0.17],[2019.18,0.3],[2019.22,-0.1],[2019.26,-0.3],[2019.30,0.0],[2019.34,-0.4],[2019.38,-0.15],[2019.42,-0.5],[2019.46,-0.2],[2019.50,-0.48],[2019.54,-0.1],[2019.58,0.3],[2019.60,0.93],[2019.63,0.2],[2019.66,-0.1],[2019.70,-0.4],[2019.74,-0.2],[2019.78,-0.5],[2019.82,-0.3],[2019.86,-0.6],[2019.90,-0.4],[2019.94,-0.55],[2019.98,-0.35],
[2020.02,-0.6],[2020.06,-0.4],[2020.10,-0.2],[2020.13,0.5],[2020.15,3.0],[2020.17,7.08],[2020.19,6.0],[2020.21,5.5],[2020.23,4.92],[2020.26,3.5],[2020.28,2.9],[2020.30,2.55],[2020.33,2.9],[2020.36,2.2],[2020.38,1.9],[2020.41,2.3],[2020.44,1.6],[2020.47,1.47],[2020.50,1.9],[2020.53,1.1],[2020.57,1.25],[2020.60,0.9],[2020.63,1.4],[2020.66,1.9],[2020.69,1.3],[2020.72,1.04],[2020.75,1.3],[2020.78,0.9],[2020.81,2.12],[2020.84,1.5],[2020.87,0.9],[2020.89,1.14],[2020.92,1.4],[2020.95,0.9],[2020.98,2.0],
[2021.01,1.2],[2021.05,0.82],[2021.09,1.1],[2021.14,0.82],[2021.18,1.0],[2021.22,1.68],[2021.25,1.0],[2021.29,0.5],[2021.33,0.8],[2021.37,0.28],[2021.41,0.5],[2021.45,0.1],[2021.49,0.3],[2021.53,-0.05],[2021.57,0.2],[2021.61,-0.15],[2021.65,0.1],[2021.69,-0.1],[2021.74,0.2],[2021.78,-0.04],[2021.82,0.3],[2021.85,0.6],[2021.88,0.2],[2021.92,-0.04],[2021.96,0.3],
[2022.00,0.5],[2022.03,1.04],[2022.06,0.6],[2022.10,1.47],[2022.13,0.9],[2022.17,1.3],[2022.20,0.82],[2022.24,1.2],[2022.28,1.9],[2022.31,1.2],[2022.35,1.5],[2022.39,0.9],[2022.43,1.2],[2022.46,1.7],[2022.50,1.0],[2022.53,1.68],[2022.57,1.1],[2022.61,0.7],[2022.65,0.9],[2022.69,1.3],[2022.73,1.0],[2022.77,1.58],[2022.81,1.2],[2022.85,0.8],[2022.89,1.04],[2022.93,0.6],[2022.97,0.9],[2023.00,0.6]
];

const RED = '#ff0000', BLUE = '#0000ff';
const FONT = 'Liberation Serif, Times New Roman, serif';
const xs = p => p.map(d => d[0]);
const ys = p => p.map(d => d[1]);
function tr(pts, name, color, ax, leg) {
  return {type:'scatter', mode:'lines', x:xs(pts), y:ys(pts), name:name,
    line:{color:color, width:1}, xaxis:'x'+ax, yaxis:'y'+ax, legend:leg, hoverinfo:'skip'};
}
const RN = '1-day gross yield (%)';
const data = [
  tr(yieldPts, RN, RED, '', 'legend'),
  tr(yieldPts, RN, RED, '2', 'legend2'), tr(liqPts, 'Liquidity Spread', BLUE, '2', 'legend2'),
  tr(yieldCsPts, RN, RED, '3', 'legend3'), tr(credPts, 'Credit Spread', BLUE, '3', 'legend3'),
  tr(yieldPts, RN, RED, '4', 'legend4'), tr(slopePts, 'Yield Slope', BLUE, '4', 'legend4'),
  tr(yieldPts, RN, RED, '5', 'legend5'), tr(tbillPts, 'T-Bill change', BLUE, '5', 'legend5'),
  tr(yieldPts, RN, RED, '6', 'legend6'), tr(vixPts, 'VIX', BLUE, '6', 'legend6')
];

const colDom = [[0, 0.4729], [0.5305, 1]];
const rowDom = [[0.7158, 1], [0.3605, 0.6434], [0, 0.2855]];
const AX = '#444';
const TICKFONT = {family:FONT, size:22, color:'#111'};
function xax(col, row, n) {
  return {domain:colDom[col], anchor:'y'+n, range:[2004, 2023], tickmode:'array', tickvals:yearTicks, ticktext:yearLabels,
    ticks:'inside', ticklen:9, tickwidth:1, tickcolor:AX, showline:true, linecolor:AX, linewidth:1,
    showgrid:false, zeroline:false, fixedrange:true, ticklabelstandoff:-4,
    minor:{tickmode:'linear', tick0:2004, dtick:1, ticks:'inside', ticklen:5, tickcolor:AX, showgrid:false},
    tickfont:TICKFONT};
}
function yax(row, n, range, vals, texts, mt0, mdt) {
  return {domain:rowDom[row], anchor:'x'+n, range:range, tickmode:'array', tickvals:vals, ticktext:texts,
    ticks:'inside', ticklen:9, tickwidth:1, tickcolor:AX, showline:true, linecolor:AX, linewidth:1,
    showgrid:false, zeroline:false, fixedrange:true, ticklabelstandoff:2,
    minor:{tickmode:'linear', tick0:mt0, dtick:mdt, ticks:'inside', ticklen:5, tickcolor:AX, showgrid:false},
    tickfont:TICKFONT};
}
function leg(x, y) {
  return {orientation:'h', x:x, y:y, xref:'paper', yref:'paper', xanchor:'center', yanchor:'top',
    bgcolor:'#ffffff', bordercolor:'#555', borderwidth:1, font:{family:FONT, size:19, color:'#111'}};
}
const layout = {
  width:1237, height:802, margin:{l:57, r:0, t:12, b:30}, paper_bgcolor:'#fff', plot_bgcolor:'#fff',
  showlegend:true,
  xaxis:xax(0,0,''), xaxis2:xax(1,0,'2'), xaxis3:xax(0,1,'3'), xaxis4:xax(1,1,'4'), xaxis5:xax(0,2,'5'), xaxis6:xax(1,2,'6'),
  yaxis:yax(0,'',[-5.55,3.0],[2.5,-2.5],['2.5','-2.5'],2.5,1),
  yaxis2:yax(0,'2',[-5.55,3.0],[2.5,-2.5],['2.5','-2.5'],2.5,1),
  yaxis3:yax(1,'3',[-1.25,6.25],[0,2.5,5],['0.0','2.5','5.0'],0,1.25),
  yaxis4:yax(1,'4',[-6,5],[-5,0,5],['-5','0','5'],0,1),
  yaxis5:yax(2,'5',[-7,5],[-5,0,5],['-5','0','5'],0,1),
  yaxis6:yax(2,'6',[-6,8.1],[-5,0,5],['-5','0','5'],0,1),
  legend:leg(0.2839, 0.9975), legend2:leg(0.8165, 0.998), legend3:leg(0.3051, 0.6395),
  legend4:leg(0.8161, 0.6395), legend5:leg(0.2237, 0.2800), legend6:leg(0.7928, 0.2855)
};
Plotly.newPlot('chart', data, layout, {displayModeBar:false, staticPlot:true});
</script></body></html>
